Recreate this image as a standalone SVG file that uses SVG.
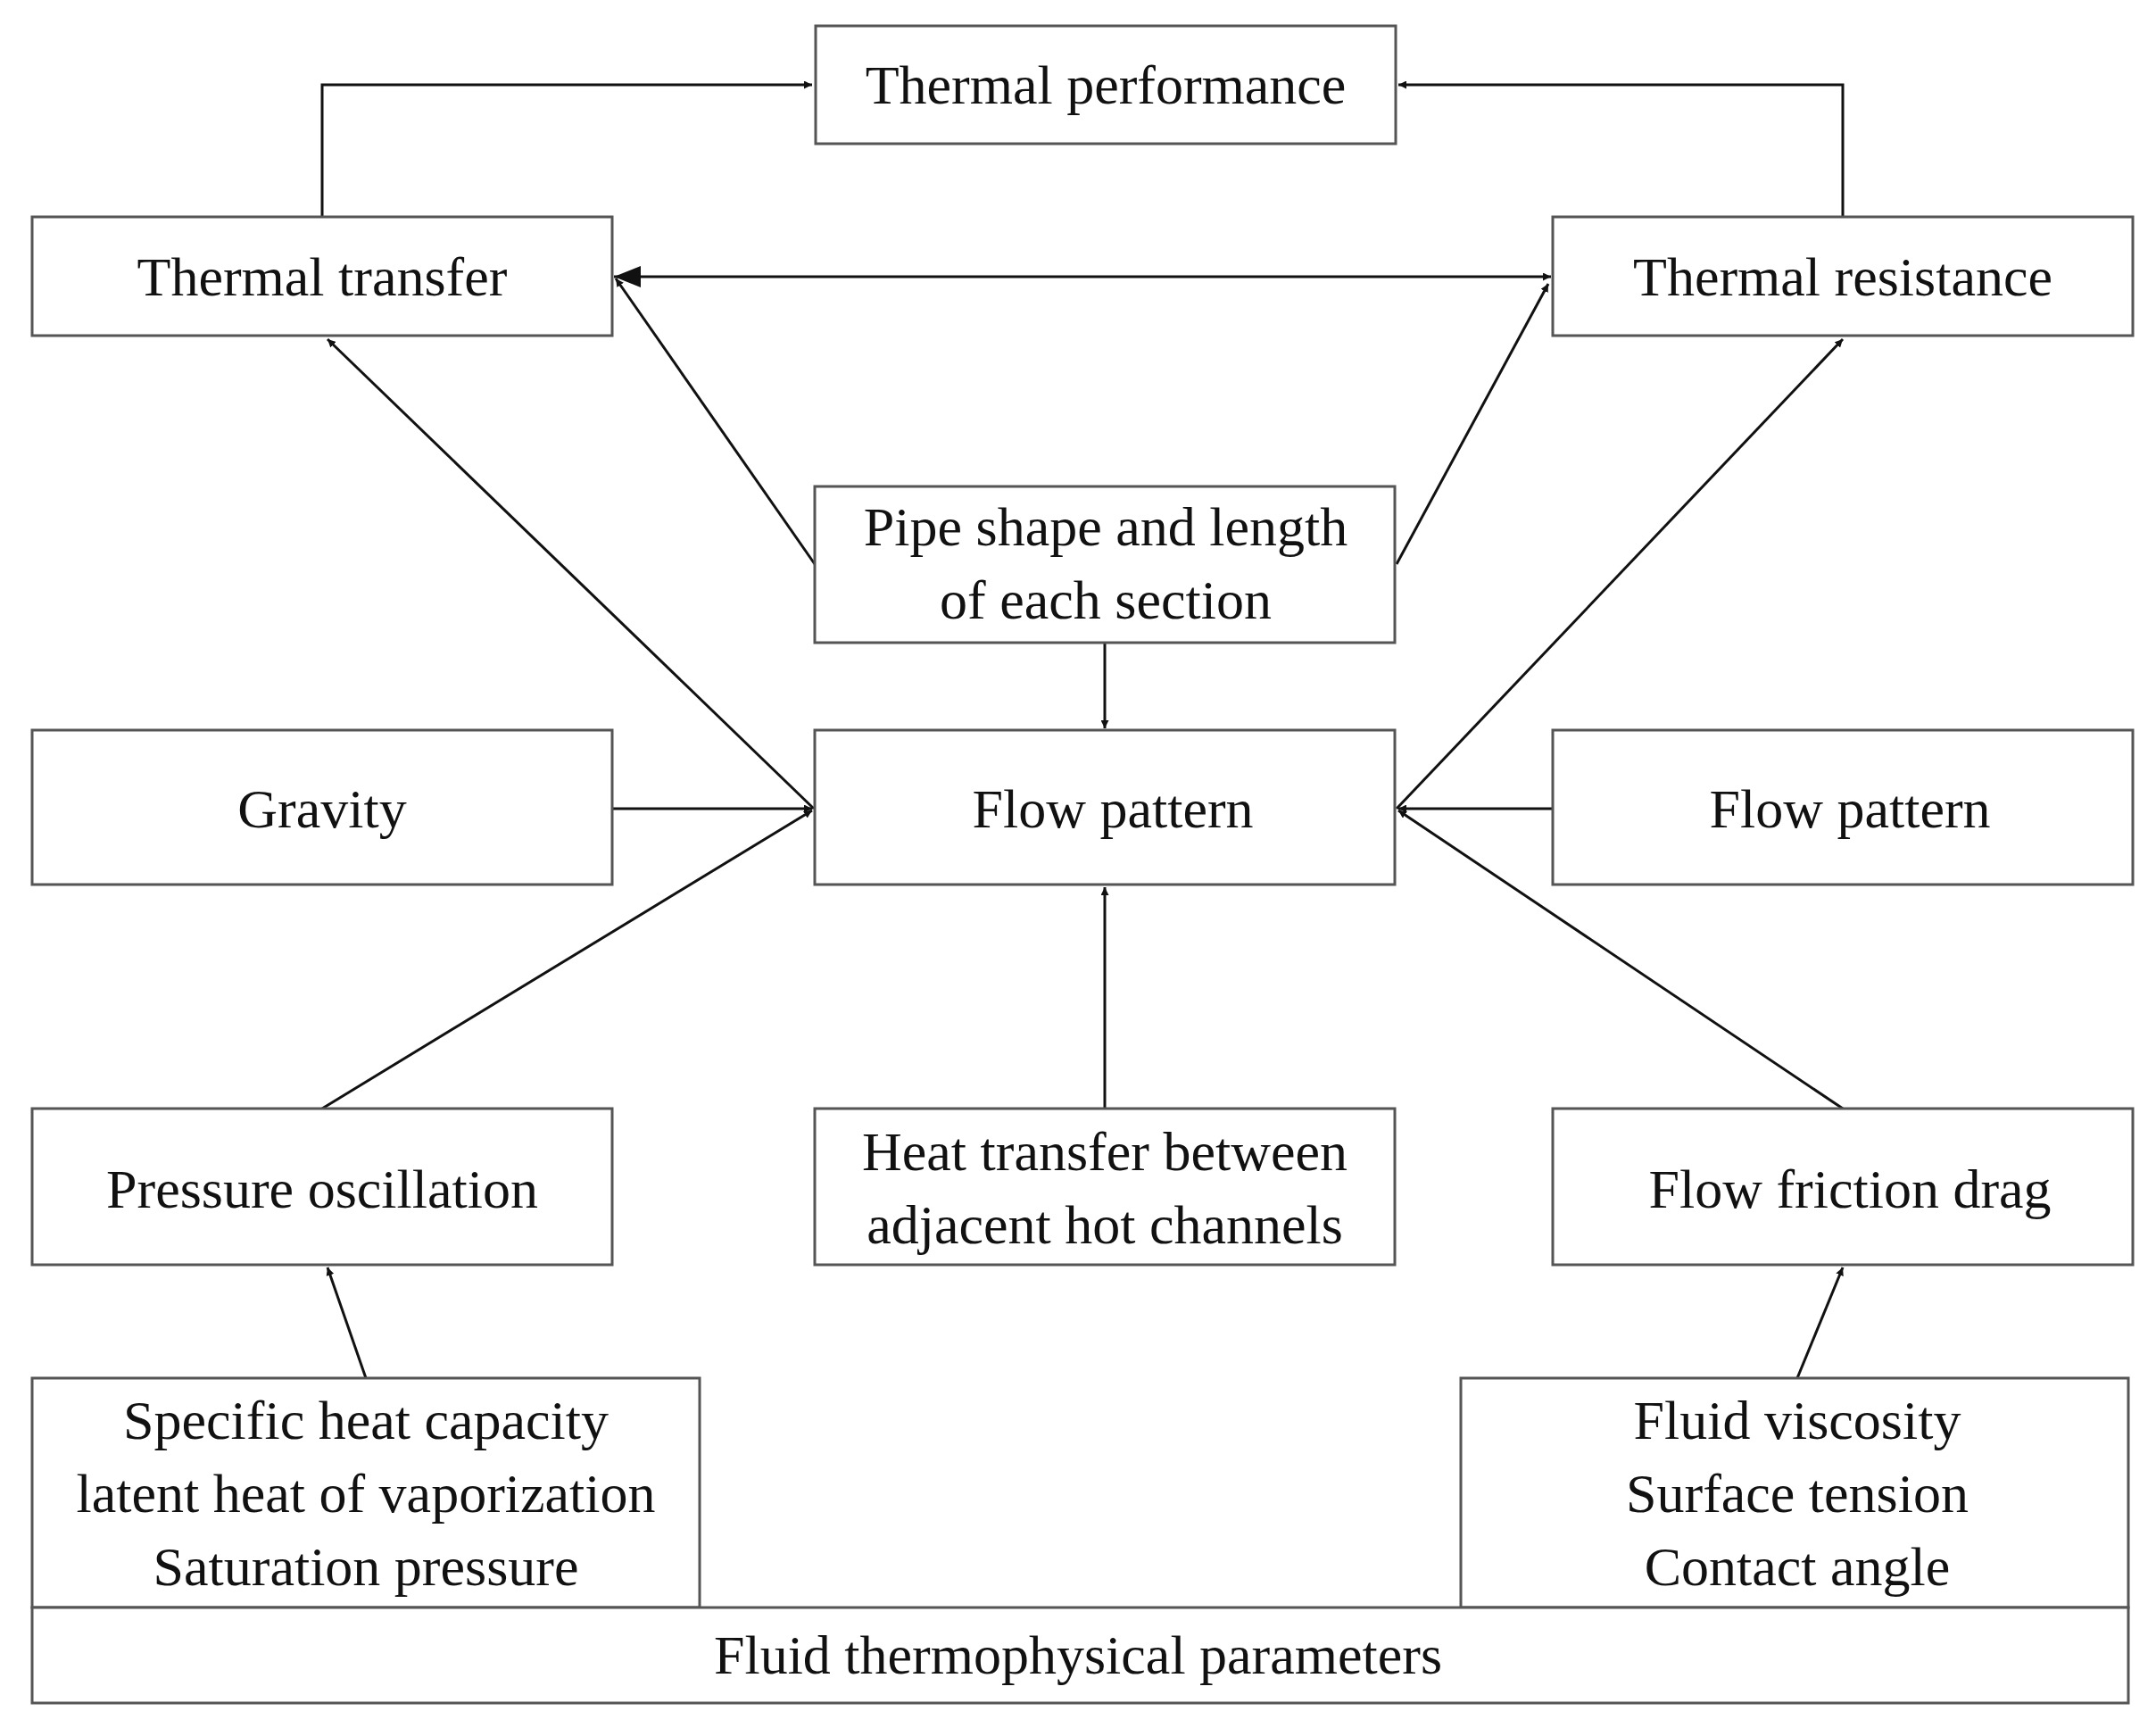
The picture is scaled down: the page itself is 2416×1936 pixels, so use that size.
<svg xmlns="http://www.w3.org/2000/svg" width="2416" height="1936" viewBox="0 0 2416 1936">
<style>
.b{fill:#fff;stroke:#555;stroke-width:3}
text{font-family:"Liberation Serif","Times New Roman",serif;font-size:62px;fill:#111;text-anchor:middle;dominant-baseline:central}
.c line,.c path{stroke:#111;stroke-width:3;fill:none;marker-end:url(#a)}
</style>
<defs><marker id="a" viewBox="0 0 10 10" refX="10" refY="5" markerWidth="9" markerHeight="9" markerUnits="userSpaceOnUse" orient="auto-start-reverse"><path d="M0,0L10,5L0,10z" fill="#111"/></marker>
<marker id="a2" viewBox="0 0 10 10" refX="10" refY="5" markerWidth="30" markerHeight="30" markerUnits="userSpaceOnUse" orient="auto-start-reverse"><path d="M0,1L10,5L0,9z" fill="#111"/></marker></defs>
<rect width="2416" height="1936" fill="#fff"/>
<g class="c">
<path d="M361,243V95H910" marker-end="url(#a2)"/>
<path d="M2065,243V95H1567" marker-end="url(#a2)"/>
<line x1="688" y1="310" x2="1738" y2="310" marker-start="url(#a2)" marker-end="url(#a2)"/>
<line x1="913" y1="632" x2="690" y2="312" marker-end="url(#a2)"/>
<line x1="1565" y1="632" x2="1735" y2="318" marker-end="url(#a2)"/>
<line x1="1238" y1="720" x2="1238" y2="816" marker-end="url(#a2)"/>
<line x1="912" y1="906" x2="367" y2="380" marker-end="url(#a2)"/>
<line x1="1565" y1="906" x2="2065" y2="380" marker-end="url(#a2)"/>
<line x1="686" y1="906" x2="910" y2="906" marker-end="url(#a2)"/>
<line x1="1740" y1="906" x2="1567" y2="906" marker-end="url(#a2)"/>
<line x1="361" y1="1242" x2="910" y2="908" marker-end="url(#a2)"/>
<line x1="1238" y1="1242" x2="1238" y2="994" marker-end="url(#a2)"/>
<line x1="2065" y1="1242" x2="1567" y2="908" marker-end="url(#a2)"/>
<line x1="410" y1="1544" x2="367" y2="1420" marker-end="url(#a2)"/>
<line x1="2014" y1="1544" x2="2065" y2="1420" marker-end="url(#a2)"/>
</g>
<g id="tp"><rect class="b" x="914" y="29" width="650" height="132"/><text x="1239" y="95">Thermal performance</text></g>
<g id="tt"><rect class="b" x="36" y="243" width="650" height="133"/><text x="361" y="310">Thermal transfer</text></g>
<g id="tr"><rect class="b" x="1740" y="243" width="650" height="133"/><text x="2065" y="310">Thermal resistance</text></g>
<g id="pipe"><rect class="b" x="913" y="545" width="650" height="175"/><text x="1239" y="590">Pipe shape and length</text><text x="1239" y="672">of each section</text></g>
<g id="grav"><rect class="b" x="36" y="818" width="650" height="173"/><text x="361" y="906">Gravity</text></g>
<g id="flow"><rect class="b" x="913" y="818" width="650" height="173"/><text x="1247" y="906">Flow pattern</text></g>
<g id="flow2"><rect class="b" x="1740" y="818" width="650" height="173"/><text x="2073" y="906">Flow pattern</text></g>
<g id="po"><rect class="b" x="36" y="1242" width="650" height="175"/><text x="361" y="1332">Pressure oscillation</text></g>
<g id="ht"><rect class="b" x="913" y="1242" width="650" height="175"/><text x="1238" y="1290">Heat transfer between</text><text x="1238" y="1372">adjacent hot channels</text></g>
<g id="ff"><rect class="b" x="1740" y="1242" width="650" height="175"/><text x="2073" y="1332">Flow friction drag</text></g>
<g id="sh"><rect class="b" x="36" y="1544" width="748" height="257"/><text x="410" y="1591">Specific heat capacity</text><text x="410" y="1673">latent heat of vaporization</text><text x="410" y="1755">Saturation pressure</text></g>
<g id="fv"><rect class="b" x="1637" y="1544" width="748" height="257"/><text x="2014" y="1591">Fluid viscosity</text><text x="2014" y="1673">Surface tension</text><text x="2014" y="1755">Contact angle</text></g>
<g id="ftp"><rect class="b" x="36" y="1801" width="2349" height="107"/><text x="1208" y="1854">Fluid thermophysical parameters</text></g>
</svg>
